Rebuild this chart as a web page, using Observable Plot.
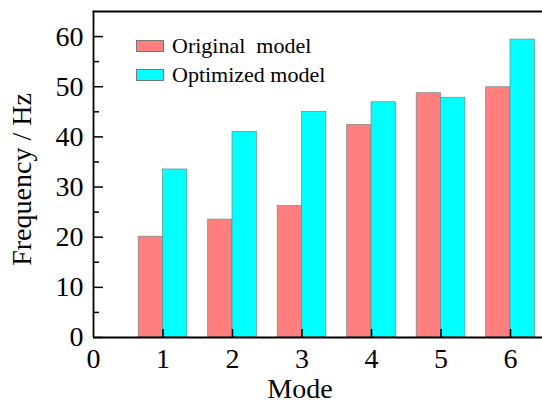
<!DOCTYPE html>
<html>
<head>
<meta charset="utf-8">
<script src="https://cdn.jsdelivr.net/npm/d3@7"></script>
<script src="https://cdn.jsdelivr.net/npm/@observablehq/plot@0.6"></script>
<style>
  body { margin: 0; background: #fff; }
  #wrap { position: relative; width: 542px; height: 403px; font-family: "Liberation Serif", "Times New Roman", serif; }
  .legend { position: absolute; left: 136px; font-size: 22px; color: #000; display: flex; align-items: center; white-space: pre; }
  .legend .sw { width: 28px; height: 12px; border: 1px solid #777; margin-right: 8px; box-sizing: border-box; }
</style>
</head>
<body>
<div id="wrap"></div>
<script>
const modes = [1, 2, 3, 4, 5, 6];
const original = [20.1, 23.5, 26.2, 42.4, 48.7, 49.9];
const optimized = [33.5, 41.0, 45.0, 46.9, 47.8, 59.4];
const seriesNames = ["Original  model", "Optimized model"];
const seriesColors = ["#ff7f7f", "#00ffff"];
const xTickLabels = [0, 1, 2, 3, 4, 5, 6];
const yMajorTicks = [0, 10, 20, 30, 40, 50, 60];
const yMinorTicks = [5, 15, 25, 35, 45, 55];
const xTitle = "Mode";
const yTitle = "Frequency / Hz";

const barWidth = 0.35;
const data = [];
modes.forEach((m, i) => {
  data.push({mode: m, series: seriesNames[0], value: original[i], x1: m - barWidth, x2: m});
  data.push({mode: m, series: seriesNames[1], value: optimized[i], x1: m, x2: m + barWidth});
});

const font = "Liberation Serif, Times New Roman, serif";
const chart = Plot.plot({
  width: 542,
  height: 403,
  marginTop: 11,
  marginBottom: 66,
  marginLeft: 93,
  marginRight: 0,
  style: {fontFamily: font, fontSize: "28px", color: "#000", background: "#fff"},
  x: {domain: [0, 6.46]},
  y: {domain: [0, 65]},
  color: {domain: seriesNames, range: seriesColors},
  marks: [
    Plot.rectY(data, {x1: "x1", x2: "x2", y1: 0, y2: "value", fill: "series", stroke: "#6a8a8a", strokeWidth: 0.7}),
    Plot.axisY(yMajorTicks, {tickSize: -10, text: null, strokeWidth: 1.5, label: null}),
    Plot.axisY(yMinorTicks, {tickSize: -6, text: null, strokeWidth: 1.5, label: null}),
    Plot.axisY(yMajorTicks, {tickSize: 0, tickPadding: 10, fontSize: 28, label: null}),
    Plot.axisX(modes, {tickSize: -8, text: null, strokeWidth: 1.5, label: null}),
    Plot.axisX(xTickLabels, {tickSize: 0, tickPadding: 11, fontSize: 28, label: null}),
    Plot.text([xTitle], {text: d => d, frameAnchor: "bottom", textAnchor: "middle", dx: -18, dy: 52, lineAnchor: "middle", fontSize: 28}),
    Plot.text([yTitle], {text: d => d, frameAnchor: "left", textAnchor: "middle", rotate: -90, dx: -71, dy: 5, lineAnchor: "middle", fontSize: 28}),
    Plot.ruleY([0], {stroke: "#000", strokeWidth: 1.8}),
    Plot.ruleX([0], {stroke: "#000", strokeWidth: 1.8}),
    Plot.frame({anchor: "top", stroke: "#000", strokeWidth: 1.8})
  ]
});
const wrap = document.getElementById("wrap");
wrap.appendChild(chart);

const legendTops = [33, 62];
seriesNames.forEach((name, i) => {
  const row = document.createElement("div");
  row.className = "legend";
  row.style.top = legendTops[i] + "px";
  const sw = document.createElement("span");
  sw.className = "sw";
  sw.style.background = seriesColors[i];
  row.appendChild(sw);
  const t = document.createElement("span");
  t.textContent = name;
  row.appendChild(t);
  wrap.appendChild(row);
});
</script>
</body>
</html>
